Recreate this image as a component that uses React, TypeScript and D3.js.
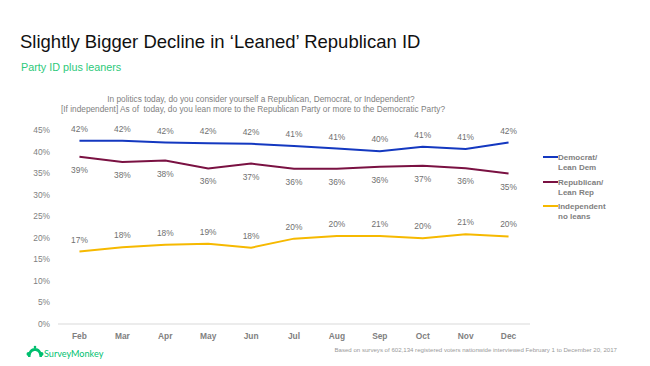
import React from "react";
import * as d3 from "d3";

const months = ["Feb", "Mar", "Apr", "May", "Jun", "Jul", "Aug", "Sep", "Oct", "Nov", "Dec"];
const demValues = [42.5, 42.5, 42.1, 41.9, 41.8, 41.3, 40.7, 40.1, 41.1, 40.6, 42.1];
const repValues = [38.8, 37.6, 37.9, 36.1, 37.2, 36.0, 36.0, 36.5, 36.7, 36.1, 34.9];
const indValues = [16.8, 17.8, 18.4, 18.6, 17.7, 19.8, 20.4, 20.4, 19.9, 20.8, 20.3];
const demLabels = ["42%", "42%", "42%", "42%", "42%", "41%", "41%", "40%", "41%", "41%", "42%"];
const repLabels = ["39%", "38%", "38%", "36%", "37%", "36%", "36%", "36%", "37%", "36%", "35%"];
const indLabels = ["17%", "18%", "18%", "19%", "18%", "20%", "20%", "21%", "20%", "21%", "20%"];
const yTicks = [0, 5, 10, 15, 20, 25, 30, 35, 40, 45];

const series = [
  { name: ["Democrat/", "Lean Dem"], values: demValues, labels: demLabels, color: "#1438c0", labelPos: "above" },
  { name: ["Republican/", "Lean Rep"], values: repValues, labels: repLabels, color: "#7a1142", labelPos: "below" },
  { name: ["Independent", "no leans"], values: indValues, labels: indLabels, color: "#f6b900", labelPos: "above" },
];

const FONT = "Liberation Sans, Arial, sans-serif";

export default function App() {
  const x = d3.scaleBand<string>().domain(months).range([58, 530]);
  const y = d3.scaleLinear().domain([0, 45]).range([324, 130]);
  const cx = (m: string) => (x(m) as number) + x.bandwidth() / 2;
  const line = d3
    .line<number>()
    .x((_, i) => cx(months[i]))
    .y((d) => y(d));

  return (
    <svg width={650} height={366} style={{ position: "absolute", left: 0, top: 0, background: "#fff" }} fontFamily={FONT}>
      <rect width={650} height={366} fill="#fff" />
      <text x={20} y={48} fontSize={18.5} fill="#111">
        Slightly Bigger Decline in ‘Leaned’ Republican ID
      </text>
      <text x={21} y={71} fontSize={10.8} fill="#2dc97a">
        Party ID plus leaners
      </text>
      <text x={261} y={102} fontSize={8.3} fill="#7f7f7f" textAnchor="middle">
        In politics today, do you consider yourself a Republican, Democrat, or Independent?
      </text>
      <text x={253} y={112} fontSize={8.3} fill="#7f7f7f" textAnchor="middle" xmlSpace="preserve">
        [If independent] As of  today, do you lean more to the Republican Party or more to the Democratic Party?
      </text>

      {yTicks.map((t) => (
        <text key={t} x={50} y={y(t) + 3} fontSize={8.4} fill="#7f7f7f" textAnchor="end">
          {t}%
        </text>
      ))}
      <line x1={58} x2={530} y1={y(0)} y2={y(0)} stroke="#d9d9d9" strokeWidth={1} />
      {months.map((m) => (
        <text key={m} x={cx(m)} y={339} fontSize={8.4} fontWeight="bold" fill="#7f7f7f" textAnchor="middle">
          {m}
        </text>
      ))}

      {series.map((s) => (
        <g key={s.name[0]}>
          <path d={line(s.values) || ""} fill="none" stroke={s.color} strokeWidth={2} />
          {s.values.map((v, i) => (
            <text
              key={i}
              x={cx(months[i])}
              y={s.labelPos === "above" ? y(v) - 9 : y(v) + 16}
              fontSize={8.4}
              fill="#707070"
              textAnchor="middle"
            >
              {s.labels[i]}
            </text>
          ))}
        </g>
      ))}

      {series.map((s, i) => {
        const ly = [157, 182, 206][i];
        return (
          <g key={"lg" + i}>
            <line x1={543} x2={558} y1={ly} y2={ly} stroke={s.color} strokeWidth={2} />
            <text x={558} y={ly + 3} fontSize={8} fontWeight="bold" fill="#7f7f7f">
              {s.name[0]}
            </text>
            <text x={558} y={ly + 13} fontSize={8} fontWeight="bold" fill="#7f7f7f">
              {s.name[1]}
            </text>
          </g>
        );
      })}

      <g fill="#00bf6f">
        <path d="M28 357 C28 351 31 348 35 348 C39 348 42 351 42 357 L39.5 357 C39.5 353 37.5 351 35 351 C32.5 351 30.5 353 30.5 357 Z" />
        <circle cx={28.5} cy={354} r={2} />
        <circle cx={41.5} cy={354} r={2} />
        <circle cx={35} cy={347} r={1.3} />
      </g>
      <text x={44} y={357} fontSize={9.1} fill="#00bf6f" fontFamily="Lato, sans-serif">
        SurveyMonkey
      </text>
      <text x={617} y={352} fontSize={6.1} fill="#9a9a9a" textAnchor="end">
        Based on surveys of 602,134 registered voters nationwide interviewed February 1 to December 20, 2017
      </text>
    </svg>
  );
}
